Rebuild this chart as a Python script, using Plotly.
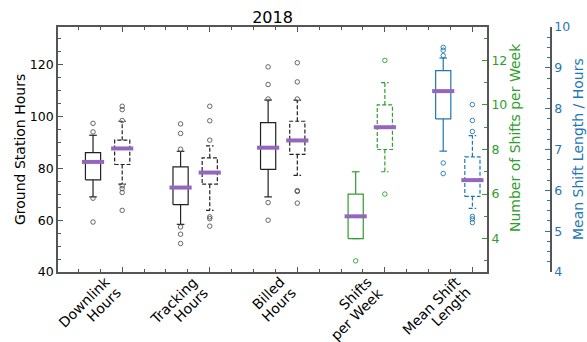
import plotly.graph_objects as go

# ---------------- data ----------------
categories = ["Downlink<br>Hours", "Tracking<br>Hours", "Billed<br>Hours",
              "Shifts<br>per Week", "Mean Shift<br>Length"]

# first (solid) box of each pair
solid_whislo = [69.0, 58.4, 69.0, 4.0, 6.96]
solid_q1     = [75.6, 66.0, 79.6, 4.0, 7.75]
solid_med    = [82.5, 72.6, 88.0, 5.0, 8.43]
solid_q3     = [86.1, 80.6, 97.7, 6.0, 8.93]
solid_whishi = [92.8, 86.6, 106.4, 7.0, 9.24]
solid_fliers = [[97.4, 94.1, 68.5, 59.3],
                [97.2, 93.5, 87.4, 57.4, 54.6, 51.0],
                [119.2, 112.4, 106.8, 66.8, 60.0],
                [3.0],
                [9.50, 9.43, 9.30, 6.67, 6.41]]

# second (dashed) box of each pair
dashed_whislo = [73.9, 63.8, 77.3, 7.0, 5.56]
dashed_q1     = [81.5, 73.9, 85.4, 8.0, 5.85]
dashed_med    = [87.7, 78.4, 90.8, 9.0, 6.25]
dashed_q3     = [90.9, 84.1, 98.2, 10.0, 6.82]
dashed_whishi = [98.2, 88.7, 106.4, 11.0, 7.34]
dashed_fliers = [[104.0, 102.7, 98.5, 73.3, 72.2, 70.7, 63.8],
                 [104.0, 98.4, 90.9, 61.3, 60.6, 57.7],
                 [120.8, 113.4, 106.8, 71.4, 71.1, 66.6],
                 [12.0, 6.0],
                 [8.10, 7.71, 7.44, 5.36, 5.30, 5.21]]

left_ticks = [40, 60, 80, 100, 120]
shift_ticks = [4, 6, 8, 10, 12]
length_ticks = [4, 5, 6, 7, 8, 9, 10]

title_text = "2018"
left_title = "Ground Station Hours"
shift_title = "Number of Shifts per Week"
length_title = "Mean Shift Length / Hours"

# ---------------- styling ----------------
FONT = "DejaVu Sans"
HOURS_C = "#222222"
FLIER_HOURS_C = "#555555"
GREEN = "#2ca02c"
BLUE = "#1f77b4"
PURPLE = "#9467bd"
SPINE = "#555555"
axis_for = ["y", "y", "y", "y2", "y3"]
color_for = [HOURS_C, HOURS_C, HOURS_C, GREEN, BLUE]
flier_color_for = [FLIER_HOURS_C, FLIER_HOURS_C, FLIER_HOURS_C, GREEN, BLUE]

HALF_BOX = 0.26
HALF_CAP = 0.13
HALF_MED = 0.38

W, H = 587, 342
ML, MR, MT, MB = 58, 36, 27, 70
PW = W - ML - MR
PH = H - MT - MB
LABEL_SIZE = 14

# approximate DejaVu Sans advance widths (fraction of em) for label layout
CHAR_W = {" ": 0.318, "D": 0.770, "o": 0.612, "w": 0.818, "n": 0.634,
          "l": 0.278, "i": 0.278, "k": 0.579, "H": 0.752, "u": 0.634,
          "r": 0.411, "s": 0.521, "T": 0.611, "a": 0.613, "c": 0.550,
          "g": 0.635, "B": 0.686, "e": 0.615, "d": 0.635, "S": 0.635,
          "h": 0.634, "f": 0.352, "t": 0.392, "p": 0.635, "W": 0.989,
          "M": 0.863, "L": 0.557}


def text_width(s, size):
    return sum(CHAR_W.get(c, 0.6) for c in s) * size


fig = go.Figure()


def add_box(pos, lo, q1, med, q3, hi, fliers, yaxis, color, fcolor, dash):
    common = dict(mode="lines", yaxis=yaxis, showlegend=False, hoverinfo="skip")
    ln = dict(color=color, width=1.2, dash=dash)
    fig.add_trace(go.Scatter(
        x=[pos - HALF_BOX, pos + HALF_BOX, pos + HALF_BOX, pos - HALF_BOX, pos - HALF_BOX],
        y=[q1, q1, q3, q3, q1], line=ln, **common))
    fig.add_trace(go.Scatter(x=[pos, pos, None, pos, pos],
                             y=[q1, lo, None, q3, hi], line=ln, **common))
    fig.add_trace(go.Scatter(
        x=[pos - HALF_CAP, pos + HALF_CAP, None, pos - HALF_CAP, pos + HALF_CAP],
        y=[lo, lo, None, hi, hi], line=ln, **common))
    fig.add_trace(go.Scatter(
        x=[pos] * len(fliers), y=fliers, mode="markers", yaxis=yaxis,
        showlegend=False, hoverinfo="skip",
        marker=dict(symbol="circle-open", size=4.5, color=fcolor,
                    line=dict(width=0.9, color=fcolor))))
    fig.add_trace(go.Scatter(x=[pos - HALF_MED, pos + HALF_MED], y=[med, med],
                             line=dict(color=PURPLE, width=4), **common))


for i in range(len(categories)):
    p_solid = 3 * i + 1
    p_dash = 3 * i + 2
    add_box(p_solid, solid_whislo[i], solid_q1[i], solid_med[i], solid_q3[i],
            solid_whishi[i], solid_fliers[i], axis_for[i], color_for[i],
            flier_color_for[i], "solid")
    add_box(p_dash, dashed_whislo[i], dashed_q1[i], dashed_med[i], dashed_q3[i],
            dashed_whishi[i], dashed_fliers[i], axis_for[i], color_for[i],
            flier_color_for[i], "4px,2px")

label_positions = [3 * i + 2 for i in range(len(categories))]


def px_x(px):
    return (px - ML) / PW


def px_y(py):
    return (H - MB - py) / PH


annotations = [
    dict(text=left_title, x=px_x(20), y=px_y(150), textangle=-90,
         font=dict(size=14, color="black"), xref="paper", yref="paper",
         xanchor="center", yanchor="middle", showarrow=False),
    dict(text=shift_title, x=px_x(515), y=px_y(138), textangle=-90,
         font=dict(size=14, color=GREEN), xref="paper", yref="paper",
         xanchor="center", yanchor="middle", showarrow=False),
    dict(text=length_title, x=px_x(578), y=px_y(149), textangle=-90,
         font=dict(size=14, color=BLUE), xref="paper", yref="paper",
         xanchor="center", yanchor="middle", showarrow=False),
]
# category labels: rotated 45 deg, lines right-aligned, ends near the tick.
# line end offsets (pixels, relative to tick / x-axis line)
END_OFFSETS = [(-15.0, 7.5), (-4.5, 18.0)]
for pos, lab in zip(label_positions, categories):
    for (dx, dy), line in zip(END_OFFSETS, lab.split("<br>")):
        half = 0.3536 * text_width(line, LABEL_SIZE)
        annotations.append(dict(
            text=line, x=pos, xref="x", y=0, yref="paper", textangle=-45,
            xanchor="center", yanchor="middle", showarrow=False,
            xshift=dx - half, yshift=-(dy + half), borderpad=0,
            font=dict(size=LABEL_SIZE, color="black")))

fig.update_layout(
    width=W, height=H,
    margin=dict(l=ML, r=MR, t=MT, b=MB, autoexpand=False),
    paper_bgcolor="white", plot_bgcolor="white",
    font=dict(family=FONT, size=12.5, color="black"),
    title=dict(text=title_text, font=dict(size=16, color="black"),
               xref="paper", x=px_x(272.5), xanchor="center",
               yref="container", y=1 - 17.5 / H, yanchor="middle",
               automargin=False),
    annotations=annotations,
    xaxis=dict(domain=[0, 429 / PW], range=[-0.2, 14.5], automargin=False,
               tickmode="array", tickvals=label_positions, showticklabels=False,
               ticks="inside", ticklen=5, tickcolor=SPINE, tickwidth=1,
               minor=dict(tickmode="linear", tick0=0.5, dtick=0.75,
                          ticks="inside", ticklen=3, tickcolor=SPINE),
               showline=True, linecolor=SPINE, linewidth=1.8, mirror="ticks",
               showgrid=False, zeroline=False),
    yaxis=dict(range=[40, 134.6], tickmode="array", tickvals=left_ticks,
               automargin=False,
               ticks="inside", ticklen=5, tickcolor=SPINE,
               minor=dict(tickmode="linear", tick0=40, dtick=5,
                          ticks="inside", ticklen=3, tickcolor=SPINE),
               showline=True, linecolor=SPINE, linewidth=1.8,
               showgrid=False, zeroline=False),
    yaxis2=dict(range=[2.5, 13.5], overlaying="y", anchor="x", side="right",
                automargin=False,
                tickmode="array", tickvals=shift_ticks,
                ticks="inside", ticklen=5, tickcolor=GREEN,
                tickfont=dict(color=GREEN, size=12.5),
                minor=dict(tickmode="linear", tick0=2, dtick=1,
                           ticks="inside", ticklen=3, tickcolor=GREEN),
                showline=True, linecolor=SPINE, linewidth=1.8,
                showgrid=False, zeroline=False),
    yaxis3=dict(range=[4, 10], overlaying="y", anchor="free", position=1.0,
                automargin=False,
                side="right", tickmode="array", tickvals=length_ticks,
                ticks="inside", ticklen=5, tickcolor=BLUE,
                tickfont=dict(color=BLUE, size=12.5),
                minor=dict(tickmode="linear", tick0=4, dtick=0.25,
                           ticks="inside", ticklen=3, tickcolor=BLUE),
                showline=True, linecolor=SPINE, linewidth=1.5,
                showgrid=False, zeroline=False),
)

fig.write_html("out.html", config={"displayModeBar": False},
               post_script="document.body.style.margin='0';"
                           "document.body.style.padding='0';")
